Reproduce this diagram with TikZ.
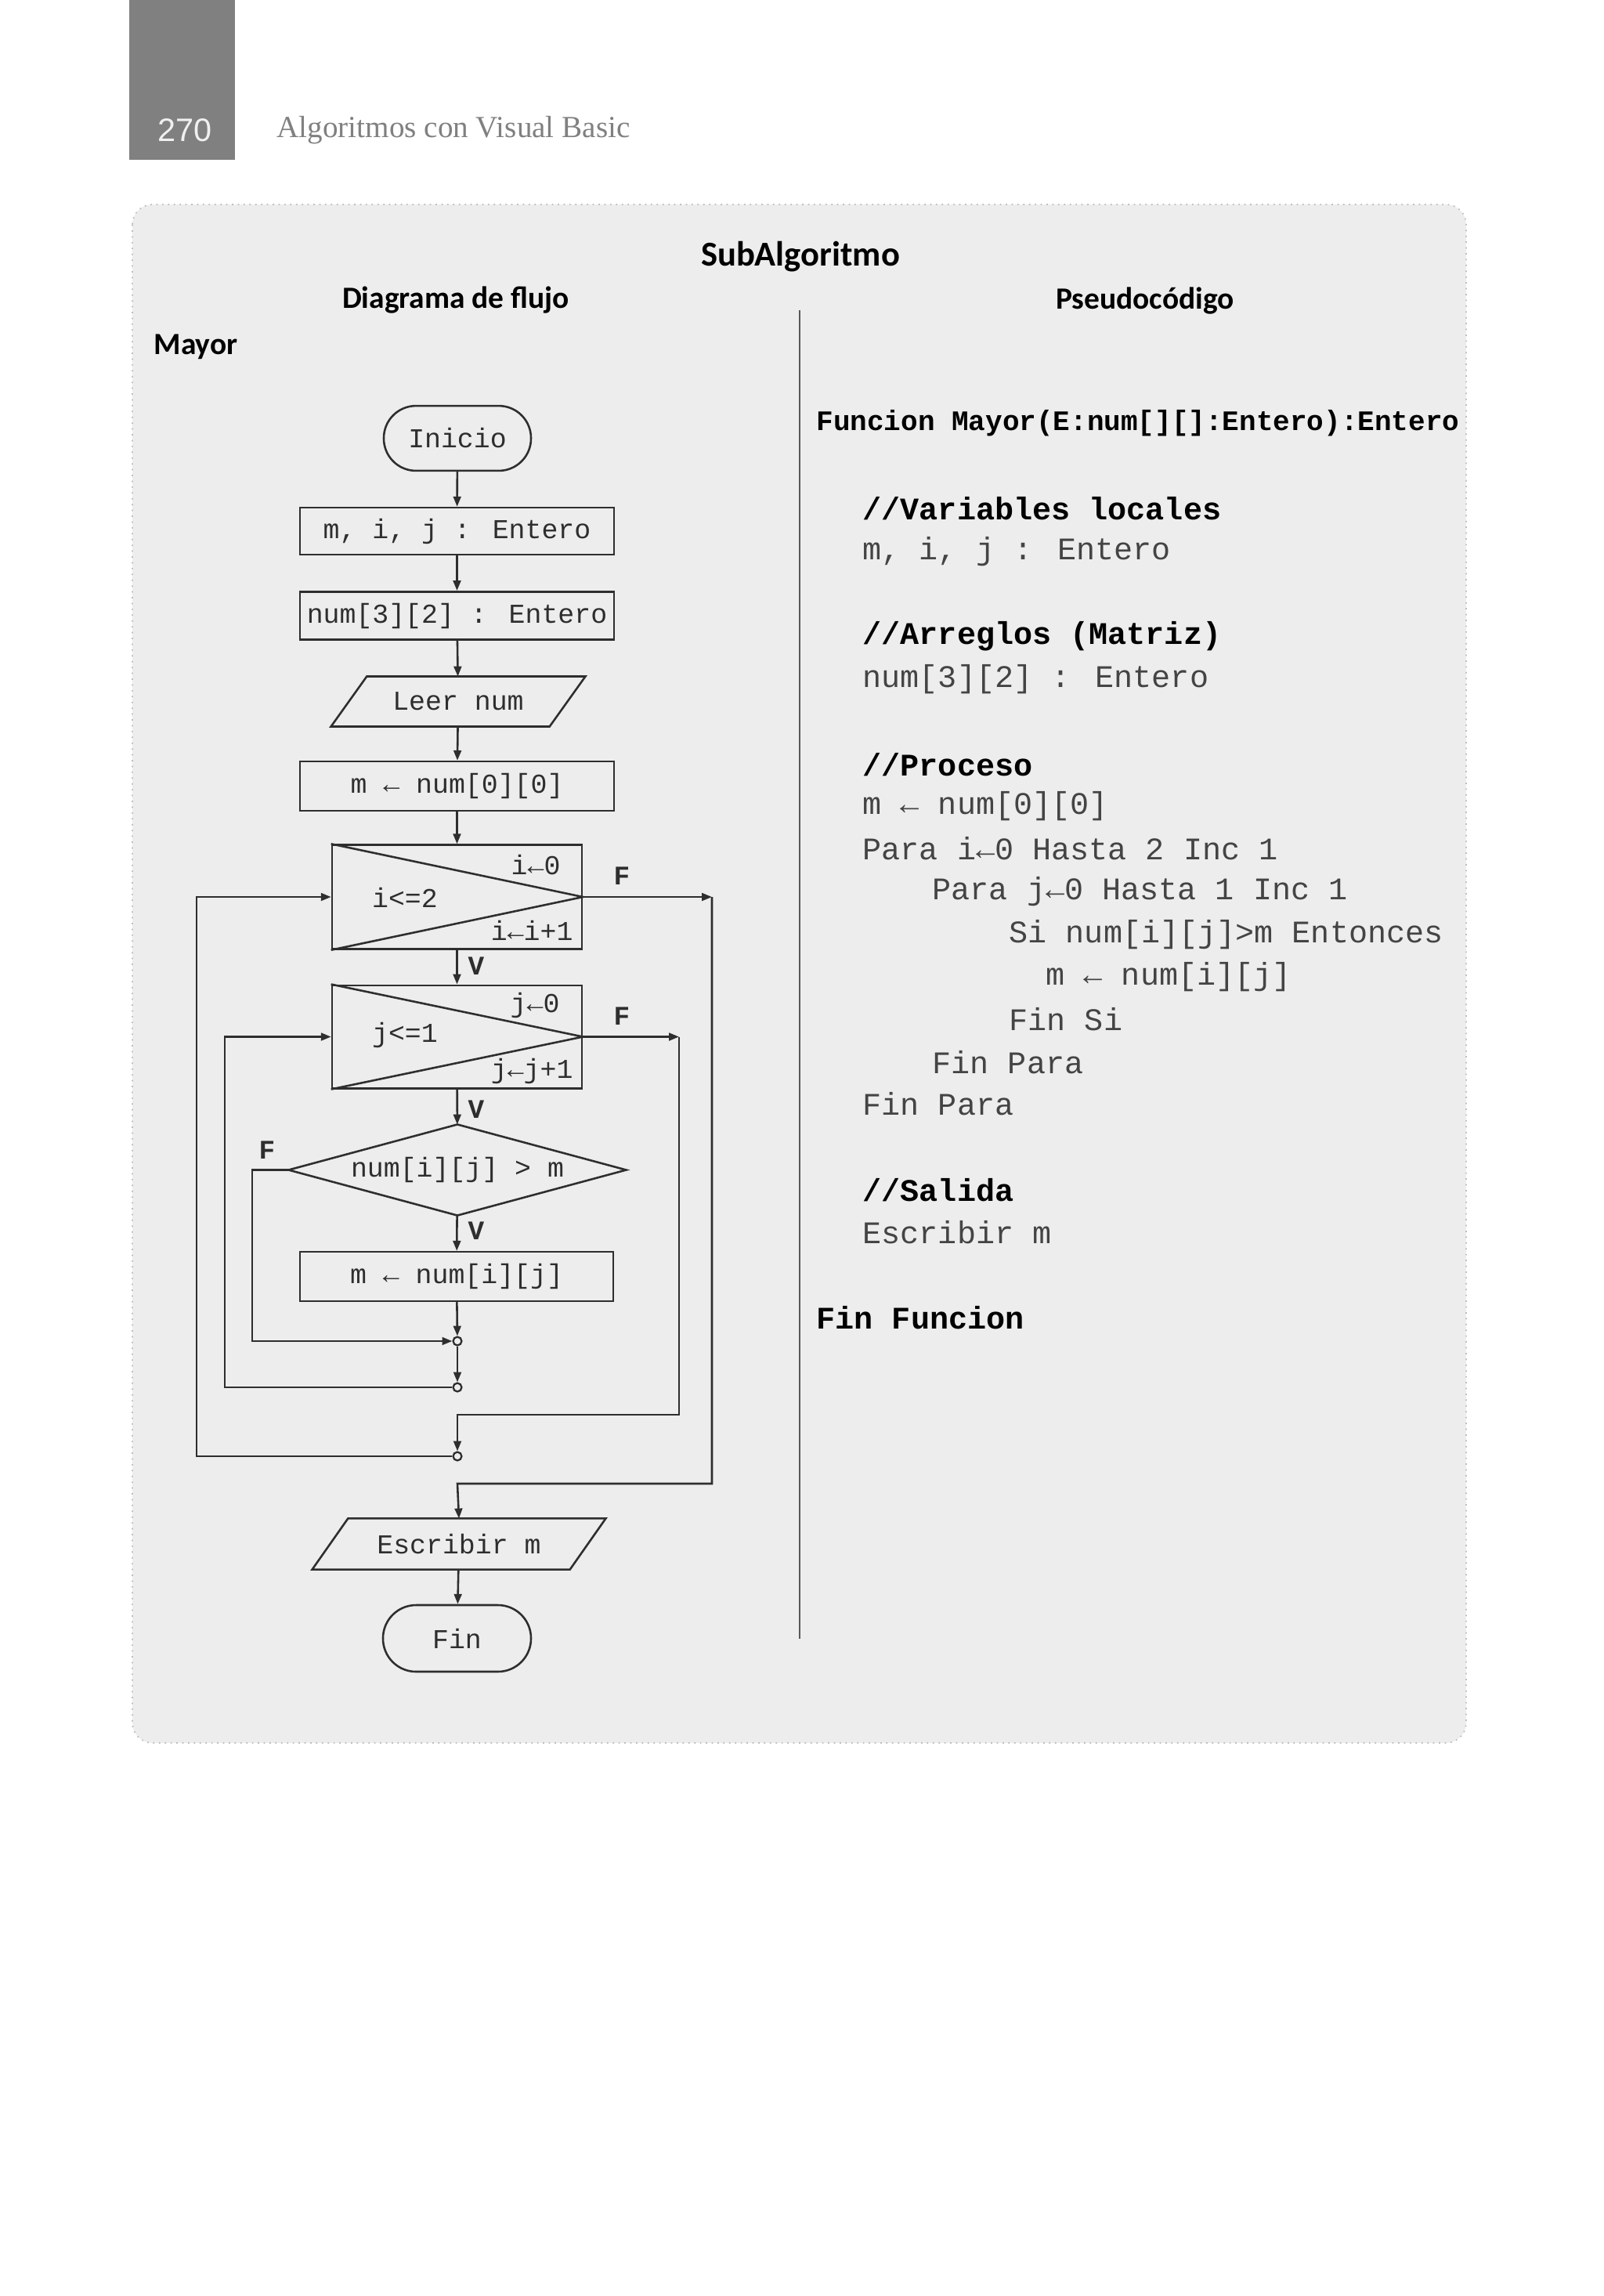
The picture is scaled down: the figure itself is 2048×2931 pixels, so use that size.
\documentclass[tikz,border=0pt]{standalone}
\usepackage{fontspec}
\setmainfont{Liberation Serif}
\newfontfamily\hdsans{Carlito}
\newfontfamily\numsans{Liberation Sans}
\newfontfamily\cmono{Liberation Mono}
\usetikzlibrary{arrows.meta}
\definecolor{panel}{HTML}{EDEDED}
\definecolor{tabgray}{HTML}{808080}
\definecolor{ink}{HTML}{2E2E2E}
\definecolor{code}{HTML}{444444}
\tikzset{
  x=0.35pt, y=-0.35pt,
  fc/.style={draw=ink, line width=0.9pt, inner sep=0pt, font=\cmono\fontsize{12.2}{14}\selectfont, text=ink},
  ghost/.style={inner sep=0pt, font=\cmono\fontsize{12.2}{14}\selectfont, text=ink},
  arr/.style={draw=ink, line width=0.9pt, -{Triangle[length=4.5pt,width=3.4pt]}},
  ln/.style={draw=ink, line width=0.9pt},
  lbl/.style={inner sep=0pt, font=\cmono\bfseries\fontsize{12}{14}\selectfont, text=ink},
  junc/.style={circle, draw=ink, fill=panel, line width=0.8pt, inner sep=0pt, minimum size=3.8pt},
  hd/.style={inner sep=0pt, font=\hdsans\bfseries\fontsize{13.8}{16}\selectfont},
  cd/.style={anchor=west, inner sep=0pt, font=\cmono\fontsize{14.05}{16}\selectfont, text=code},
  cdb/.style={anchor=west, inner sep=0pt, font=\cmono\bfseries\fontsize{14.05}{16}\selectfont, text=black},
}
\begin{document}
\begin{tikzpicture}
\useasboundingbox[fill=white] (0,0) rectangle (2048,2931);
% page header
\fill[tabgray] (165,0) rectangle (300,204);
\node[font=\numsans\fontsize{14.5}{16}\selectfont, text=white!88!gray, inner sep=0pt] (pg) at (236,166) {270};
\node[font=\fontsize{13.7}{16}\selectfont, text=gray, anchor=west, inner sep=0pt] (ht) at (353,166) {Algoritmos con Visual Basic};
% panel
\draw[panel!80!black, fill=panel, line width=0.6pt, dotted, rounded corners=9pt] (169,261) rectangle (1872,2225);
\node[hd, font=\hdsans\bfseries\fontsize{15.6}{18}\selectfont] (sub) at (1022,328) {SubAlgoritmo};
\node[hd] (dfh) at (582,383) {Diagrama de flujo};
\node[hd] (psh) at (1462,384) {Pseudocódigo};
\node[hd, anchor=west] (may) at (196,443) {Mayor};
\draw[ink!80, line width=0.7pt] (1021,396) -- (1021,2092);

% flowchart
\node[fc, rounded corners=14.4pt, minimum width=65.8pt, minimum height=29pt] (ini) at (584,559.5) {Inicio};
\node[fc, minimum width=140.35pt, minimum height=21pt] (b1) at (583.5,678) {m, i, j : Entero};
\node[fc, minimum width=140.35pt, minimum height=21.5pt] (b2) at (583.5,786) {num[3][2] : Entero};
\node[ghost, minimum width=97.3pt, minimum height=22pt] (leer) at (585,895.5) {Leer num};
\draw[ln] ([xshift=8pt]leer.north west) -- ([xshift=8pt]leer.north east) -- ([xshift=-8pt]leer.south east) -- ([xshift=-8pt]leer.south west) -- cycle;
\node[fc, minimum width=140.35pt, minimum height=22pt] (m0) at (583.5,1003.5) {m ← num[0][0]};

\node[fc, minimum width=111.65pt, minimum height=46.5pt] (il) at (583.5,1145) {};
\draw[ln] (il.north west) -- (il.east) -- (il.south west);
\node[ghost, anchor=east] (i0) at (716,1104) {i←0};
\node[ghost] (ic) at (517,1146) {i<=2};
\node[ghost, anchor=east] (ii) at (732,1188) {i←i+1};

\node[fc, minimum width=111.65pt, minimum height=46pt] (jl) at (583.5,1323.5) {};
\draw[ln] (jl.north west) -- (jl.east) -- (jl.south west);
\node[ghost, anchor=east] (j0) at (715,1283) {j←0};
\node[ghost] (jc) at (517,1321) {j<=1};
\node[ghost, anchor=east] (jj) at (732,1367) {j←j+1};

\node[ghost, minimum width=150.5pt, minimum height=40.25pt] (dia) at (584,1493.5) {num[i][j] > m};
\draw[ln] (dia.north) -- (dia.east) -- (dia.south) -- (dia.west) -- cycle;
\node[fc, minimum width=140pt, minimum height=22pt] (asg) at (583,1629.5) {m ← num[i][j]};

\node[junc] (c1) at (584,1712) {};
\node[junc] (c2) at (584,1771) {};
\node[junc] (c3) at (584,1859) {};

\node[ghost, minimum width=114.8pt, minimum height=22.4pt] (esc) at (586,1971) {Escribir m};
\draw[ln] ([xshift=8pt]esc.north west) -- ([xshift=8pt]esc.north east) -- ([xshift=-8pt]esc.south east) -- ([xshift=-8pt]esc.south west) -- cycle;
\node[fc, rounded corners=14.8pt, minimum width=66.15pt, minimum height=29.75pt] (fin) at (583.5,2091.5) {Fin};

\coordinate (iE) at (909,1145);
\coordinate (jE) at (867,1323.5);

\draw[arr] (ini) -- (b1);
\draw[arr] (b1) -- (b2);
\draw[arr] (b2) -- (leer);
\draw[arr] (leer) -- (m0);
\draw[arr] (m0) -- (il);
\draw[arr] (il) -- (jl);
\draw[arr] (jl) -- (dia);
\draw[arr] (dia) -- (asg);
\draw[arr] (asg) -- (c1);
\draw[arr] (c1) -- (c2);
\draw[arr] (dia.west) -- (322,1493.5) |- (c1.west);
\draw[arr] (c2.west) -- (287,1771) |- (jl.west);
\draw[arr] (jl.east) -- (jE);
\draw[arr] (jE) |- (584,1806) -- (c3.north);
\draw[arr] (c3.west) -- (251,1859) |- (il.west);
\draw[arr] (il.east) -- (iE);
\draw[arr] (iE) |- (584,1894) -- (esc.north);
\draw[arr] (esc) -- (fin);

\node[lbl] (fi) at (794,1118) {F};
\node[lbl] (fj) at (794,1297) {F};
\node[lbl] (fd) at (341,1468) {F};
\node[lbl] (vi) at (608,1233) {V};
\node[lbl] (vj) at (608,1416) {V};
\node[lbl] (vd) at (608,1571) {V};

% pseudocode
\node[cdb, font=\cmono\bfseries\fontsize{12.6}{14}\selectfont] (p0) at (1042,540) {Funcion Mayor(E:num[][]:Entero):Entero};
\node[cdb] (p1) at (1101,649) {//Variables locales};
\node[cd] (p2) at (1101,704) {m, i, j : Entero};
\node[cdb] (p3) at (1101,812) {//Arreglos (Matriz)};
\node[cd] (p4) at (1101,867) {num[3][2] : Entero};
\node[cdb] (p5) at (1101,976) {//Proceso};
\node[cd] (p6) at (1101,1029) {m ← num[0][0]};
\node[cd] (p7) at (1101,1083) {Para i←0 Hasta 2 Inc 1};
\node[cd] (p8) at (1190,1138) {Para j←0 Hasta 1 Inc 1};
\node[cd] (p9) at (1288,1193) {Si num[i][j]>m Entonces};
\node[cd] (p10) at (1335,1247) {m ← num[i][j]};
\node[cd] (p11) at (1288,1301) {Fin Si};
\node[cd] (p12) at (1190,1356) {Fin Para};
\node[cd] (p13) at (1101,1409) {Fin Para};
\node[cdb] (p14) at (1101,1519) {//Salida};
\node[cd] (p15) at (1101,1573) {Escribir m};
\node[cdb] (p16) at (1042,1682) {Fin Funcion};
\end{tikzpicture}
\end{document}
